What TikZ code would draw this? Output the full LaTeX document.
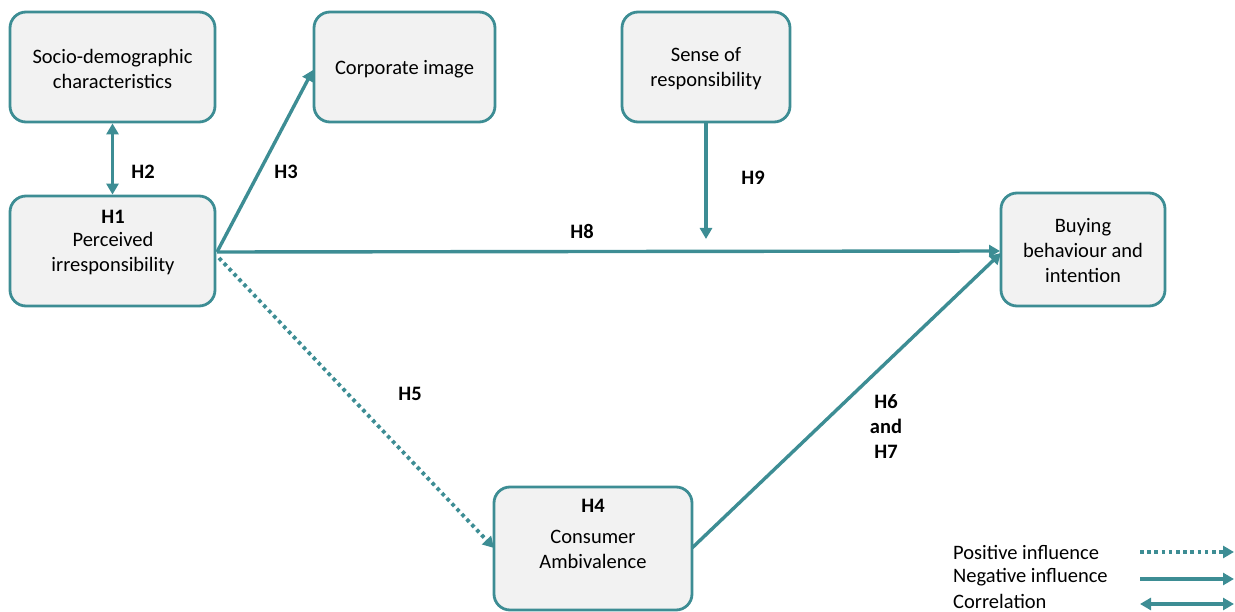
\documentclass[tikz,border=0pt]{standalone}
\usepackage{fontspec}
\setmainfont{Carlito}
\usetikzlibrary{arrows.meta}
\definecolor{teal1}{HTML}{3D8D94}
\definecolor{boxfill}{HTML}{F2F2F2}
\newcommand{\myfs}{\fontsize{20.5}{25}\selectfont}
\begin{document}
\begin{tikzpicture}[x=1pt,y=-1pt,
  box/.style={draw=teal1,fill=boxfill,line width=2.8pt,rounded corners=16pt,inner sep=0pt,align=center,font=\myfs},
  txt/.style={font=\myfs,align=center},
  conn/.style={draw=teal1,line width=3.4pt,-{Triangle[width=12pt,length=11pt]}},
  dconn/.style={conn,{Triangle[width=12pt,length=11pt]}-{Triangle[width=12pt,length=11pt]}},
  pconn/.style={conn,line width=3.8pt,dash pattern=on 3.6pt off 3.6pt},
  lab/.style={font=\myfs\bfseries,align=center},
  leg/.style={font=\myfs,anchor=west,inner sep=0pt}]
\useasboundingbox (0,0) rectangle (1235,612);
\node[box,minimum width=205pt,minimum height=110pt] (socio) at (112.5,67) {};
\node[txt] (sociotext) at (112.5,68.5) {Socio-demographic\\characteristics};
\node[box,minimum width=181pt,minimum height=110pt] (corp) at (404.5,67) {};
\node[txt] (corptext) at (404.5,69) {Corporate image};
\node[box,minimum width=168pt,minimum height=110pt] (sense) at (706,67) {};
\node[txt] (sensetext) at (706,69) {Sense of\\responsibility};
\node[box,minimum width=205pt,minimum height=110pt] (perc) at (112.5,251) {};
\node[lab] (h1) at (113,217) {H1};
\node[txt] (perctext) at (113,254) {Perceived\\irresponsibility};
\node[box,minimum width=164pt,minimum height=113pt] (buy) at (1083,249.5) {};
\node[txt] (buytext) at (1083,251) {Buying\\behaviour and\\intention};
\node[box,minimum width=198pt,minimum height=123pt] (cons) at (593,548.5) {};
\node[lab] (h4) at (593,506) {H4};
\node[txt] (constext) at (593,549.5) {Consumer\\Ambivalence};
\coordinate (p0) at (217,252);
\coordinate (p1) at (219,258);
\coordinate (c3) at (313,70);
\coordinate (b8) at (1000,251);
\coordinate (h9end) at (706,239);
\coordinate (c5) at (494,548);
\coordinate (c67) at (692,548);
\coordinate (b67) at (1001,253);
\draw[dconn] (socio.south) -- (perc.north);
\draw[conn] (p0) -- (c3);
\draw[conn] (p0) -- (b8);
\draw[conn] (sense.south) -- (h9end);
\draw[pconn] (p1) -- (c5);
\draw[conn] (c67) -- (b67);
\node[lab] (h2) at (143,172) {H2};
\node[lab] (h3) at (286,172) {H3};
\node[lab] (h9) at (753,178) {H9};
\node[lab] (h8) at (582,231) {H8};
\node[lab] (h5) at (410,394) {H5};
\node[lab] (h67) at (886,427) {H6\\and\\H7};
\node[leg] (lpos) at (953,552) {Positive influence};
\node[leg] (lneg) at (953,577) {Negative influence};
\node[leg] (lcor) at (953,601) {Correlation};
\coordinate (a1) at (1140,552); \coordinate (a1e) at (1234,552);
\coordinate (a2) at (1140,579); \coordinate (a2e) at (1234,579);
\coordinate (a3) at (1140,604); \coordinate (a3e) at (1234,604);
\draw[pconn] (a1) -- (a1e);
\draw[conn] (a2) -- (a2e);
\draw[dconn] (a3) -- (a3e);
\end{tikzpicture}
\end{document}
